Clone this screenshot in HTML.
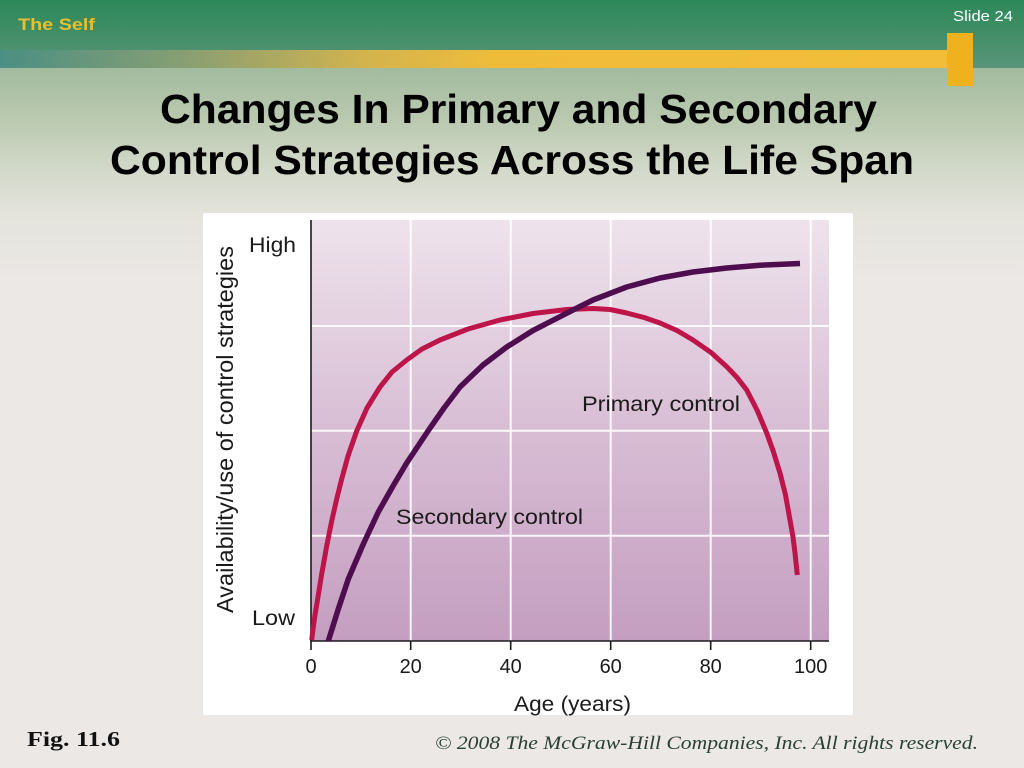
<!DOCTYPE html>
<html>
<head>
<meta charset="utf-8">
<style>
html,body{margin:0;padding:0;width:1024px;height:768px;overflow:hidden;background:#ebe8e5;}
svg{display:block;}
</style>
</head>
<body>
<svg width="1024" height="768" viewBox="0 0 1024 768" xmlns="http://www.w3.org/2000/svg">
  <defs>
    <linearGradient id="hdr" x1="0" y1="0" x2="0" y2="1">
      <stop offset="0" stop-color="#2d895a"/>
      <stop offset="0.45" stop-color="#3f8d66"/>
      <stop offset="1" stop-color="#5a967a"/>
    </linearGradient>
    <linearGradient id="body" x1="0" y1="68" x2="0" y2="768" gradientUnits="userSpaceOnUse">
      <stop offset="0" stop-color="#a2bb9e"/>
      <stop offset="0.08" stop-color="#bccab2"/>
      <stop offset="0.15" stop-color="#d4dacb"/>
      <stop offset="0.21" stop-color="#e4e3dc"/>
      <stop offset="0.3" stop-color="#ebe8e5"/>
      <stop offset="1" stop-color="#ebe8e5"/>
    </linearGradient>
    <linearGradient id="bar" x1="0" y1="0" x2="955" y2="0" gradientUnits="userSpaceOnUse">
      <stop offset="0" stop-color="#4b8f84"/>
      <stop offset="0.2" stop-color="#8a9f72"/>
      <stop offset="0.38" stop-color="#d2b34e"/>
      <stop offset="0.52" stop-color="#efbc3a"/>
      <stop offset="1" stop-color="#f2be3a"/>
    </linearGradient>
    <linearGradient id="plot" x1="0" y1="220" x2="0" y2="641" gradientUnits="userSpaceOnUse">
      <stop offset="0" stop-color="#eee3ec"/>
      <stop offset="0.5" stop-color="#d8bdd4"/>
      <stop offset="1" stop-color="#c49ec0"/>
    </linearGradient>
  </defs>

  <!-- background -->
  <rect x="0" y="0" width="1024" height="68" fill="url(#hdr)"/>
  <rect x="0" y="68" width="1024" height="700" fill="url(#body)"/>

  <!-- header bar -->
  <rect x="0" y="50" width="955" height="18" fill="url(#bar)"/>
  <rect x="947" y="33" width="26" height="53" fill="#efb21e"/>

  <text x="18" y="30" font-family="Liberation Sans, Arial, sans-serif" font-weight="bold" font-size="17" fill="#e6c02e" textLength="77" lengthAdjust="spacingAndGlyphs">The Self</text>
  <text x="953" y="21" font-family="Liberation Sans, Arial, sans-serif" font-size="15" fill="#ffffff" textLength="60" lengthAdjust="spacingAndGlyphs">Slide 24</text>

  <!-- title -->
  <text x="160" y="123" font-family="Liberation Sans, Arial, sans-serif" font-weight="bold" font-size="41" fill="#000" textLength="717" lengthAdjust="spacingAndGlyphs">Changes In Primary and Secondary</text>
  <text x="110" y="174" font-family="Liberation Sans, Arial, sans-serif" font-weight="bold" font-size="41" fill="#000" textLength="804" lengthAdjust="spacingAndGlyphs">Control Strategies Across the Life Span</text>

  <!-- chart box -->
  <rect x="203" y="213" width="650" height="502" fill="#ffffff"/>
  <rect x="311" y="220" width="518" height="421" fill="url(#plot)"/>

  <!-- grid -->
  <g stroke="#ffffff" stroke-width="2" opacity="0.9">
    <line x1="410.7" y1="220" x2="410.7" y2="641"/>
    <line x1="510.7" y1="220" x2="510.7" y2="641"/>
    <line x1="610.7" y1="220" x2="610.7" y2="641"/>
    <line x1="710.7" y1="220" x2="710.7" y2="641"/>
    <line x1="810.7" y1="220" x2="810.7" y2="641"/>
    <line x1="311" y1="326" x2="829" y2="326"/>
    <line x1="311" y1="430.7" x2="829" y2="430.7"/>
    <line x1="311" y1="535.7" x2="829" y2="535.7"/>
  </g>

  <!-- axes -->
  <g stroke="#1a1a1a" stroke-width="1.6" fill="none">
    <line x1="311" y1="220" x2="311" y2="641"/>
    <line x1="310.2" y1="641" x2="829" y2="641"/>
    <line x1="311" y1="641" x2="311" y2="650"/>
    <line x1="410.7" y1="641" x2="410.7" y2="650"/>
    <line x1="510.7" y1="641" x2="510.7" y2="650"/>
    <line x1="610.7" y1="641" x2="610.7" y2="650"/>
    <line x1="710.7" y1="641" x2="710.7" y2="650"/>
    <line x1="810.7" y1="641" x2="810.7" y2="650"/>
  </g>

  <!-- curves -->
  <polyline fill="none" stroke="#bd1449" stroke-width="5" stroke-linejoin="round" stroke-linecap="butt"
    points="311.7,640 313.2,628 315,615 317.5,600 321.7,574 326.7,546 331.7,521 336.7,499 341.7,479 348,456 356.7,431 367,408 380,387 392,372 406.7,360 422,349 440,340 468,329 500,320 533,313.5 566.7,309.5 593,308.5 610,309.5 626.7,313 644,317.5 660,323 677,330.5 693,340 711,352.5 726.7,366.7 737,377.5 746.7,390 757,410 766.7,433 773.5,452 780,473 785.5,495 790,520 793,537 795,553 797.3,575"/>
  <polyline fill="none" stroke="#4e0d4e" stroke-width="5.5" stroke-linejoin="round" stroke-linecap="butt"
    points="328.3,641 333.3,625 338.3,609 348.3,579 363.3,544 378.3,512 393,486 406.7,463 428,431 444,408 460,387 483,365 506.7,347 533,330.5 560,316.7 573,310 593,300 626.7,287 660,278 693,272 726.7,268 760,265.2 800,263.5"/>

  <!-- chart labels -->
  <g font-family="Liberation Sans, Arial, sans-serif" fill="#1a1a1a">
    <text x="249" y="252" font-size="21" textLength="47" lengthAdjust="spacingAndGlyphs">High</text>
    <text x="252" y="625" font-size="21" textLength="43" lengthAdjust="spacingAndGlyphs">Low</text>
    <text x="582" y="411" font-size="21" textLength="158" lengthAdjust="spacingAndGlyphs">Primary control</text>
    <text x="396" y="524" font-size="21" textLength="187" lengthAdjust="spacingAndGlyphs">Secondary control</text>
    <g font-size="20" text-anchor="middle">
      <text x="311" y="673">0</text>
      <text x="410.7" y="673">20</text>
      <text x="510.7" y="673">40</text>
      <text x="610.7" y="673">60</text>
      <text x="710.7" y="673">80</text>
      <text x="810.7" y="673">100</text>
    </g>
    <text x="514" y="711" font-size="21" textLength="117" lengthAdjust="spacingAndGlyphs">Age (years)</text>
    <text transform="translate(233,613) rotate(-90)" x="0" y="0" font-size="23" textLength="367" lengthAdjust="spacingAndGlyphs">Availability/use of control strategies</text>
  </g>

  <!-- footer -->
  <text x="27" y="746" font-family="Liberation Serif, Times New Roman, serif" font-weight="bold" font-size="21" fill="#111" textLength="93" lengthAdjust="spacingAndGlyphs">Fig. 11.6</text>
  <text x="435" y="749" font-family="Liberation Serif, Times New Roman, serif" font-style="italic" font-size="19" fill="#2a3f36" textLength="543" lengthAdjust="spacingAndGlyphs">© 2008 The McGraw-Hill Companies, Inc. All rights reserved.</text>
</svg>
</body>
</html>
